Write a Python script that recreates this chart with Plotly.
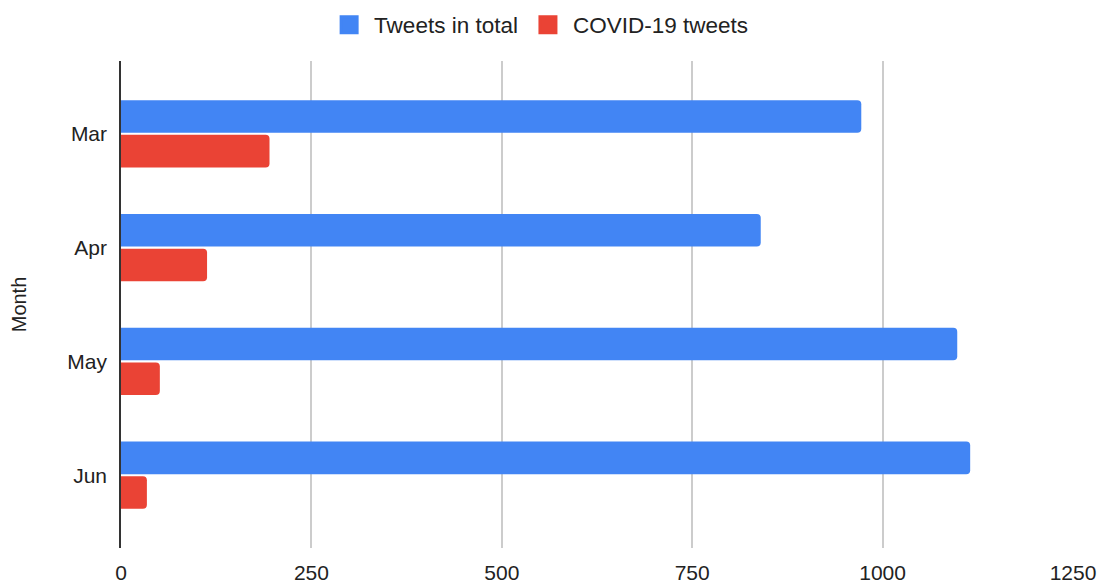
import plotly.graph_objects as go

months = ["Mar", "Apr", "May", "Jun"]
tweets_total = [972, 840, 1098, 1115]
covid_tweets = [195, 113, 51, 34]
x_ticks = [0, 250, 500, 750, 1000, 1250]
series_names = ["Tweets in total", "COVID-19 tweets"]
series_colors = ["#4285F4", "#EA4335"]

font_family = "Liberation Sans, Arial, sans-serif"
text_color = "#222222"

fig = go.Figure()
for vals, name, color in zip([tweets_total, covid_tweets], series_names, series_colors):
    fig.add_trace(go.Bar(y=months, x=vals, orientation="h", name=name, showlegend=False,
                         marker=dict(color=color, cornerradius=4, line=dict(width=0))))
# legend-only entries with larger square swatches
for name, color in zip(series_names, series_colors):
    fig.add_trace(go.Scatter(x=[None], y=[None], mode="markers", name=name,
                             marker=dict(symbol="square", size=16, color=color,
                                         line=dict(width=3, color=color))))

fig.update_layout(
    width=1106, height=583,
    margin=dict(l=121, r=33, t=61, b=35),
    barmode="group", bargap=0.39, bargroupgap=0.06,
    plot_bgcolor="white", paper_bgcolor="white",
    font=dict(family=font_family, size=21, color=text_color),
    legend=dict(orientation="h", xref="container", yref="container", x=0.487, y=0.957,
                xanchor="center", yanchor="middle", font=dict(size=22.5, color=text_color),
                itemsizing="trace", traceorder="normal", itemwidth=40),
    xaxis=dict(range=[0, 1250], tickvals=x_ticks, ticktext=[str(v) for v in x_ticks],
               showgrid=True, gridcolor="#cccccc", gridwidth=1.5, zeroline=False,
               showline=False, ticks="", ticklabelstandoff=10, automargin=False,
               tickfont=dict(size=21, color=text_color)),
    yaxis=dict(range=[3.64, -0.64], showgrid=False, showline=True, linecolor="#333333",
               linewidth=1.5, ticks="", ticklabelstandoff=8, automargin=False,
               tickfont=dict(size=21, color=text_color),
               title=dict(text="Month", font=dict(size=20, color=text_color), standoff=35)),
)

fig.write_html("out.html")
